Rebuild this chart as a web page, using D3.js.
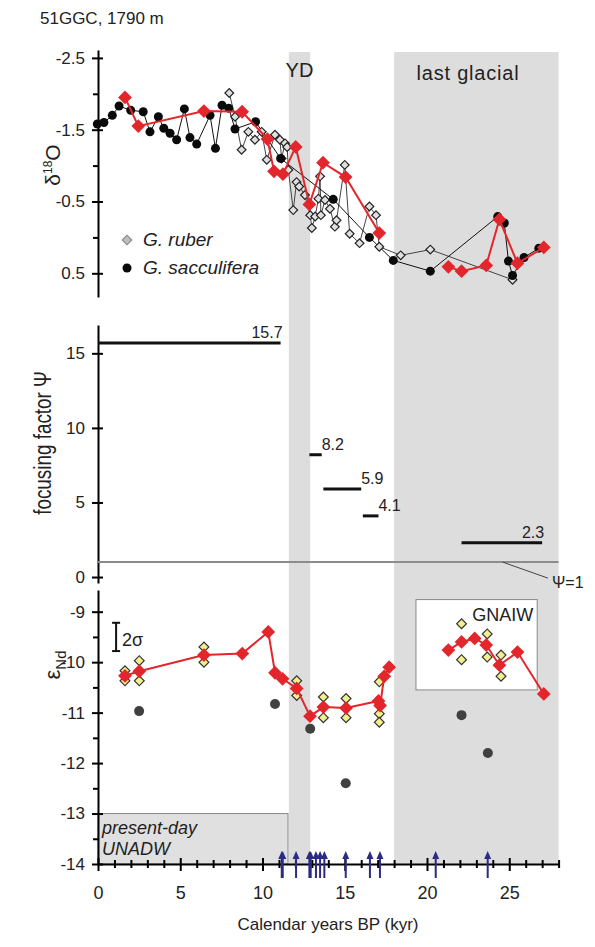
<!DOCTYPE html>
<html>
<head>
<meta charset="utf-8">
<script src="https://cdn.jsdelivr.net/npm/d3@7"></script>
<style>
body { margin: 0; background: #fff; }
text { font-family: "Liberation Sans", Arial, sans-serif; fill: #222; }
</style>
</head>
<body>
<svg id="chart" width="595" height="947"></svg>
<script>
// ---- data (ages in kyr BP) ----
// G. sacculifera d18O
var sacculifera = [[-0.04,-1.58],[0.36,-1.60],[0.87,-1.70],[1.28,-1.83],[1.99,-1.77],[2.75,-1.75],[3.16,-1.47],
    [3.67,-1.68],[4.0,-1.52],[4.38,-1.45],[4.78,-1.36],[5.25,-1.79],[5.59,-1.39],[6.0,-1.30],[6.81,-1.70],
    [7.14,-1.24],[7.54,-1.84],[7.95,-1.80],[8.33,-1.51],[9.58,-1.61],[11.1,-1.10],[14.3,-0.53],[16.5,0.0],
    [17.95,0.32],[20.2,0.47],[24.3,-0.29],[24.7,-0.20],[24.95,0.33],[25.2,0.53],[25.9,0.28],[26.8,0.15]];
// G. ruber d18O
var ruber = [[7.98,-2.01],[8.33,-1.68],[8.73,-1.22],[9.14,-1.47],[9.54,-1.36],[9.95,-1.47],[10.26,-1.08],
    [10.76,-1.43],[11.06,-1.36],[11.16,-1.10],[11.37,-1.31],[11.5,-1.26],[11.57,-0.94],[11.87,-0.38],
    [12.07,-0.77],[12.23,-0.71],[12.58,-0.59],[12.9,-0.31],[13.0,-0.13],[13.2,-0.29],[13.4,-0.54],
    [13.5,-0.85],[13.55,-0.31],[13.8,-0.52],[14.1,-0.40],[14.4,-0.15],[14.5,-0.24],[15.0,-1.01],
    [15.3,-0.05],[15.9,0.08],[16.5,-0.43],[16.9,-0.31],[17.1,0.13],[18.4,0.25],[20.2,0.17],[25.2,0.59]];
// d18O at Nd sample depths (red), two runs
var d18oNdA = [[1.64,-1.95],[2.45,-1.55],[6.44,-1.76],[8.76,-1.75],[10.3,-1.37],[10.7,-0.92],[11.24,-0.88],
    [12.02,-1.26],[12.85,-0.46],[13.68,-1.04],[15.05,-0.84],[17.1,-0.06]];
var d18oNdB = [[21.3,0.41],[22.1,0.47],[23.6,0.39],[24.4,-0.25],[25.5,0.36],[27.1,0.14]];

// focusing factor: [from, to, value]
var focusing = [[0,11.1,15.7],[12.85,13.6,8.2],[13.7,16.0,5.9],[16.1,17.05,4.1],[22.1,27.0,2.3]];

// eNd means (red), replicates (yellow), other fraction (grey)
var endMeanA = [[1.64,-10.27],[2.51,-10.18],[6.44,-9.86],[8.77,-9.83],[10.35,-9.40],[10.76,-10.21],
    [11.22,-10.33],[12.08,-10.52],[12.89,-11.07],[13.7,-10.89],[15.08,-10.91],[17.05,-10.77],[17.15,-10.86],
    [17.4,-10.28],[17.7,-10.10]];
var endMeanB = [[21.3,-9.76],[22.1,-9.60],[22.9,-9.53],[23.6,-9.66],[24.4,-10.06],[25.5,-9.80],[27.1,-10.63]];
var endReps = [[1.64,-10.17],[1.64,-10.37],[2.51,-9.97],[2.51,-10.37],[6.44,-9.70],[6.44,-10.0],
    [12.08,-10.37],[12.08,-10.66],[13.7,-10.69],[13.7,-11.1],[15.08,-10.72],[15.08,-11.1],[17.1,-10.39],
    [17.1,-11.02],[17.1,-11.19],[22.1,-9.24],[22.1,-9.95],[23.66,-9.44],[23.66,-9.90],[24.5,-9.86],[24.5,-10.28]];
var endGrey = [[2.5,-10.97],[10.76,-10.83],[12.9,-11.32],[15.06,-12.40],[22.1,-11.05],[23.7,-11.80]];

// age control points (arrows)
var ageControl = [11.17,11.23,12.04,12.85,12.93,13.25,13.5,13.76,15.06,16.53,17.14,20.53,23.69];

var xTicks = [0,5,10,15,20,25];
var d18oTicks = [-2.5,-1.5,-0.5,0.5];
var focTicks = [0,5,10,15];
var endTicks = [-9,-10,-11,-12,-13,-14];

// ---- scales ----
var svg = d3.select("#chart");
var x = d3.scaleLinear().domain([0, 28]).range([98, 558.6]);
var yO = d3.scaleLinear().domain([-2.61, 0.83]).range([50, 297]);
var yF = d3.scaleLinear().domain([-0.4, 16.9]).range([583, 325]);
var yN = d3.scaleLinear().domain([-8.57, -14]).range([590, 864]);

var red = "#e3262b";

// shaded intervals
var bands = [[11.6, 12.9], [18.0, 28]];
svg.selectAll("rect.band").data(bands).enter().append("rect")
    .attr("x", function(d){ return x(d[0]); })
    .attr("width", function(d){ return x(d[1]) - x(d[0]); })
    .attr("y", 52).attr("height", 813)
    .attr("fill", "#dddddd");

svg.append("text").attr("x", x(12.25)).attr("y", 77).attr("text-anchor","middle")
    .style("font-size","20px").text("YD");
svg.append("text").attr("x", 468).attr("y", 80).attr("text-anchor","middle")
    .style("font-size","20px").style("letter-spacing","0.8px").text("last glacial");

svg.append("text").attr("x", 40).attr("y", 24).style("font-size","17px").text("51GGC, 1790 m");

// helper for crossing y-axis ticks
function yAxis(scale, ticks, minors, fmt) {
    var g = svg.append("g").attr("transform", "translate(98,0)");
    g.call(d3.axisLeft(scale).tickValues(ticks).tickSizeOuter(0).tickFormat(fmt));
    g.select(".domain").attr("stroke","#000").attr("stroke-width",2);
    g.selectAll(".tick line").attr("x1",5).attr("x2",-6).attr("stroke-width",2);
    g.selectAll(".tick text").attr("x",-13).style("font-size","17px").attr("fill","#222");
    if (minors) {
        var m = svg.append("g").attr("transform", "translate(98,0)");
        m.call(d3.axisLeft(scale).tickValues(minors).tickSize(5).tickFormat(""));
        m.select(".domain").remove();
        m.selectAll(".tick line").attr("stroke-width",2);
    }
    return g;
}

// ---- top panel: d18O ----
yAxis(yO, d18oTicks, [-2.0,-1.0,0.0], function(d){ return d.toFixed(1); });

var lineO = d3.line().x(function(d){ return x(d[0]); }).y(function(d){ return yO(d[1]); });
svg.append("path").datum(ruber).attr("d", lineO).attr("fill","none").attr("stroke","#444").attr("stroke-width",1);
svg.append("path").datum(sacculifera).attr("d", lineO).attr("fill","none").attr("stroke","#111").attr("stroke-width",1);

var diamond = function(size){ return d3.symbol().type(d3.symbolSquare).size(size)(); };

svg.selectAll("path.rub").data(ruber).enter().append("path")
    .attr("d", diamond(38))
    .attr("transform", function(d){ return "translate(" + x(d[0]) + "," + yO(d[1]) + ") rotate(45)"; })
    .attr("fill","#e0e0e0").attr("stroke","#222").attr("stroke-width",1.2);
svg.selectAll("circle.sac").data(sacculifera).enter().append("circle")
    .attr("cx", function(d){ return x(d[0]); }).attr("cy", function(d){ return yO(d[1]); })
    .attr("r", 4.5).attr("fill","#0a0a0a");

[d18oNdA, d18oNdB].forEach(function(s){
    svg.append("path").datum(s).attr("d", lineO).attr("fill","none").attr("stroke",red).attr("stroke-width",2);
    svg.selectAll(null).data(s).enter().append("path")
        .attr("d", diamond(95))
        .attr("transform", function(d){ return "translate(" + x(d[0]) + "," + yO(d[1]) + ") rotate(45)"; })
        .attr("fill",red);
});

// legend
svg.append("path").attr("d", diamond(45)).attr("transform","translate(127,240) rotate(45)")
    .attr("fill","#bdbdbd").attr("stroke","#8a8a8a").attr("stroke-width",1.2);
svg.append("circle").attr("cx",127).attr("cy",268).attr("r",4.5).attr("fill","#0a0a0a");
svg.append("text").attr("x",143).attr("y",246).style("font-size","19px").style("font-style","italic").text("G. ruber");
svg.append("text").attr("x",143).attr("y",274).style("font-size","19px").style("font-style","italic").text("G. sacculifera");

var lab = svg.append("text").attr("transform","translate(60,165) rotate(-90)").attr("text-anchor","middle")
    .style("font-size","21px");
lab.append("tspan").text("δ");
lab.append("tspan").attr("dy",-8).style("font-size","12px").text("18");
lab.append("tspan").attr("dy",8).text("O");

// ---- middle panel: focusing factor ----
yAxis(yF, focTicks, null, function(d){ return d; });

svg.append("line").attr("x1", x(0)).attr("x2", x(28)).attr("y1", yF(1)).attr("y2", yF(1))
    .attr("stroke","#8c8c8c").attr("stroke-width",2);
svg.append("line").attr("x1", x(24.6)).attr("y1", yF(1)).attr("x2", x(27.35)).attr("y2", yF(1) + 16)
    .attr("stroke","#444").attr("stroke-width",1);
svg.append("text").attr("x", 552).attr("y", yF(1) + 26).style("font-size","16px").text("Ψ=1");

svg.selectAll("line.foc").data(focusing).enter().append("line")
    .attr("x1", function(d){ return x(d[0]); }).attr("x2", function(d){ return x(d[1]); })
    .attr("y1", function(d){ return yF(d[2]); }).attr("y2", function(d){ return yF(d[2]); })
    .attr("stroke","#111").attr("stroke-width",3);
svg.selectAll("text.foc").data(focusing).enter().append("text")
    .attr("x", function(d){ return x(d[1]) + (d[2] > 10 || d[2] < 3 ? 2 : 0); })
    .attr("y", function(d){ return yF(d[2]) - 5; })
    .attr("text-anchor", function(d){ return (d[2] > 10 || d[2] < 3) ? "end" : "start"; })
    .style("font-size","16px")
    .text(function(d){ return d[2].toFixed(1); });

svg.append("text").attr("transform","translate(51,443) rotate(-90) scale(0.82,1)").attr("text-anchor","middle")
    .style("font-size","23px")
    .text("focusing factor  Ψ");

// ---- bottom panel: eNd ----
// present-day UNADW box
svg.append("rect").attr("x", x(0)).attr("y", yN(-13)).attr("width", x(11.55) - x(0)).attr("height", yN(-14) - yN(-13))
    .attr("fill","#e0e0e0").attr("stroke","#888").attr("stroke-width",1);
svg.append("text").attr("x",102).attr("y",yN(-13) + 20).style("font-size","18px").style("font-style","italic").text("present-day");
svg.append("text").attr("x",102).attr("y",yN(-13) + 41).style("font-size","18px").style("font-style","italic").text("UNADW");

// GNAIW box
svg.append("rect").attr("x", x(19.33)).attr("y", yN(-8.76)).attr("width", x(26.7) - x(19.33)).attr("height", yN(-10.55) - yN(-8.76))
    .attr("fill","#fff").attr("stroke","#888").attr("stroke-width",1);
svg.append("text").attr("x", x(26.7) - 4).attr("y", yN(-8.76) + 21).attr("text-anchor","end").style("font-size","18px").text("GNAIW");

yAxis(yN, endTicks, [-9.5,-10.5,-11.5,-12.5,-13.5], function(d){ return d; });

// 2 sigma bar
var sg = svg.append("g").attr("stroke","#111").attr("stroke-width",2);
sg.append("line").attr("x1", x(1.1)).attr("x2", x(1.1)).attr("y1", yN(-9.22)).attr("y2", yN(-9.78));
sg.append("line").attr("x1", x(1.1) - 4).attr("x2", x(1.1) + 4).attr("y1", yN(-9.22)).attr("y2", yN(-9.22));
sg.append("line").attr("x1", x(1.1) - 4).attr("x2", x(1.1) + 4).attr("y1", yN(-9.78)).attr("y2", yN(-9.78));
svg.append("text").attr("x", 122).attr("y", yN(-9.68)).style("font-size","18px").text("2σ");

var lineN = d3.line().x(function(d){ return x(d[0]); }).y(function(d){ return yN(d[1]); });

svg.selectAll("circle.grey").data(endGrey).enter().append("circle")
    .attr("cx", function(d){ return x(d[0]); }).attr("cy", function(d){ return yN(d[1]); })
    .attr("r", 5).attr("fill","#404040");
svg.selectAll("path.rep").data(endReps).enter().append("path")
    .attr("d", diamond(48))
    .attr("transform", function(d){ return "translate(" + x(d[0]) + "," + yN(d[1]) + ") rotate(45)"; })
    .attr("fill","#f4ef8c").attr("stroke","#333").attr("stroke-width",1.2);
[endMeanA, endMeanB].forEach(function(s){
    svg.append("path").datum(s).attr("d", lineN).attr("fill","none").attr("stroke",red).attr("stroke-width",2);
    svg.selectAll(null).data(s).enter().append("path")
        .attr("d", diamond(95))
        .attr("transform", function(d){ return "translate(" + x(d[0]) + "," + yN(d[1]) + ") rotate(45)"; })
        .attr("fill",red);
});

var en = svg.append("text").attr("transform","translate(60,665) rotate(-90)").attr("text-anchor","middle")
    .style("font-size","22px");
en.append("tspan").text("ε");
en.append("tspan").attr("dy",6).style("font-size","15px").text("Nd");

// x axis
var gx = svg.append("g").attr("transform","translate(0," + yN(-14) + ")");
gx.call(d3.axisBottom(x).tickValues(xTicks).tickSizeOuter(0));
gx.select(".domain").attr("stroke","#000").attr("stroke-width",2);
gx.selectAll(".tick line").attr("y1",-6).attr("y2",7).attr("stroke-width",2);
gx.selectAll(".tick text").attr("y",22).style("font-size","18px").attr("fill","#222");
var gm = svg.append("g").attr("transform","translate(0," + yN(-14) + ")");
gm.call(d3.axisBottom(x).tickValues(d3.range(0, 29).filter(function(d){ return d % 5; })).tickSize(4).tickFormat(""));
gm.select(".domain").remove();
gm.selectAll(".tick line").attr("y1",-4).attr("stroke-width",2);

svg.append("text").attr("x", 328).attr("y", 930).attr("text-anchor","middle").style("font-size","17px")
    .text("Calendar years BP (kyr)");

// age control arrows
var ar = svg.selectAll("g.arrow").data(ageControl).enter().append("g")
    .attr("transform", function(d){ return "translate(" + x(d) + ",0)"; });
ar.append("line").attr("x1",0).attr("x2",0).attr("y1",878).attr("y2",857)
    .attr("stroke","#2b2a86").attr("stroke-width",2);
ar.append("path").attr("d","M-3.5,859L0,851L3.5,859Z").attr("fill","#2b2a86");
</script>
</body>
</html>
